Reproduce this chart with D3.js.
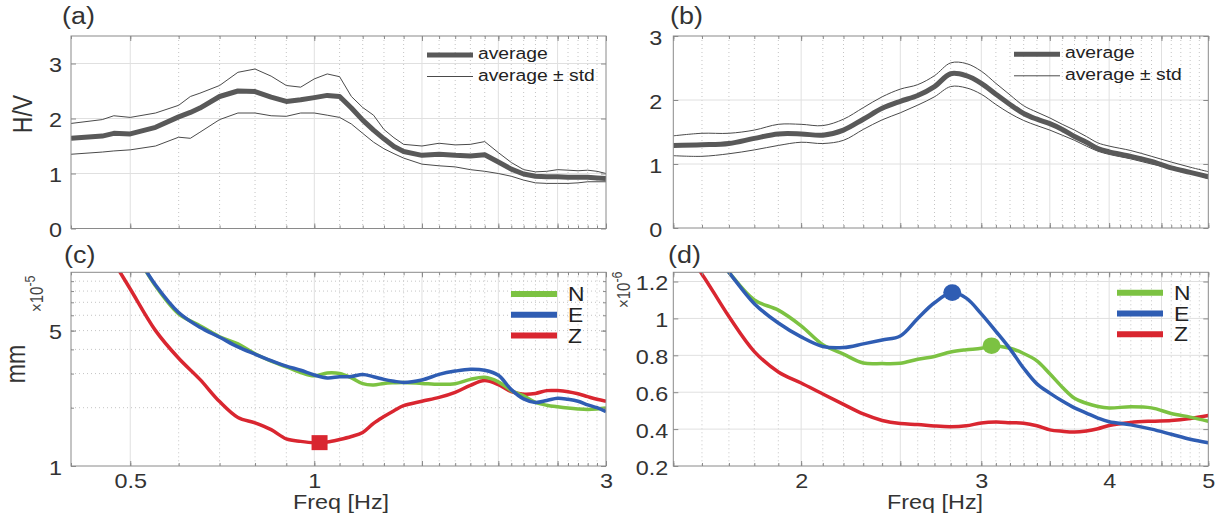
<!DOCTYPE html>
<html>
<head>
<meta charset="utf-8">
<script src="https://cdn.jsdelivr.net/npm/d3@7"></script>
<style>
  html, body { margin: 0; padding: 0; background: #fff; }
  svg { display: block; }
  text { font-family: "Liberation Sans", Arial, Helvetica, sans-serif; }
</style>
</head>
<body>
<svg id="fig" width="1219" height="521"></svg>
<script>
// ---------------- H/V ratio, site 1 (panel a) ----------------
const hvFreqA = [0.40,0.45,0.47,0.50,0.55,0.60,0.627,0.65,0.70,0.75,0.80,0.85,0.90,0.95,
                 1.00,1.05,1.10,1.15,1.20,1.25,1.30,1.35,1.40,1.50,1.60,1.70,1.80,1.90,2.00,
                 2.10,2.20,2.30,2.40,2.50,2.60,2.70,2.80,2.90,3.00];
const hvAvgA = [1.64,1.68,1.73,1.72,1.84,2.03,2.11,2.19,2.40,2.50,2.49,2.39,2.31,2.34,
                2.38,2.42,2.40,2.19,1.97,1.79,1.63,1.49,1.40,1.33,1.35,1.33,1.32,1.34,1.21,
                1.08,0.99,0.95,0.94,0.94,0.93,0.93,0.93,0.92,0.91];
const hvUpA  = [1.91,1.98,2.05,2.02,2.10,2.24,2.40,2.46,2.60,2.84,2.90,2.77,2.60,2.57,
                2.72,2.81,2.76,2.40,2.20,2.06,1.80,1.65,1.53,1.50,1.55,1.52,1.53,1.58,1.38,
                1.20,1.07,1.03,1.04,1.07,1.06,1.05,1.06,1.04,1.00];
const hvLoA  = [1.35,1.39,1.41,1.43,1.50,1.66,1.64,1.75,1.98,2.10,2.10,2.05,2.04,2.10,
                2.10,2.06,2.02,1.90,1.73,1.57,1.45,1.36,1.28,1.17,1.14,1.12,1.07,1.04,1.00,
                0.95,0.88,0.83,0.82,0.82,0.82,0.83,0.85,0.85,0.85];

// ---------------- H/V ratio, site 2 (panel b) ----------------
const hvFreqB = [1.5,1.6,1.7,1.8,1.9,2.0,2.1,2.2,2.3,2.4,2.5,2.6,2.7,2.8,2.9,3.0,
                 3.1,3.2,3.3,3.4,3.5,3.6,3.7,3.8,3.9,4.0,4.2,4.4,4.6,4.8,5.0];
const hvAvgB = [1.29,1.30,1.32,1.40,1.47,1.47,1.45,1.53,1.70,1.87,1.98,2.07,2.21,2.41,2.38,2.26,
                2.09,1.93,1.79,1.70,1.63,1.54,1.43,1.34,1.24,1.19,1.12,1.04,0.94,0.87,0.80];
const hvUpB  = [1.44,1.48,1.48,1.53,1.62,1.62,1.60,1.70,1.88,2.05,2.17,2.24,2.38,2.58,2.57,2.45,
                2.26,2.08,1.91,1.81,1.72,1.62,1.53,1.43,1.33,1.28,1.21,1.12,1.03,0.95,0.88];
const hvLoB  = [1.13,1.12,1.16,1.22,1.29,1.34,1.32,1.37,1.54,1.69,1.80,1.92,2.05,2.21,2.19,2.09,
                1.93,1.79,1.68,1.60,1.53,1.45,1.37,1.28,1.20,1.15,1.08,1.00,0.93,0.86,0.77];

// ---------------- spectra, site 1 (panel c), units of 1e-5 mm ----------------
const specFreqNC = [0.52,0.55,0.60,0.65,0.70,0.75,0.80,0.85,0.90,0.95,1.00,1.05,1.10,1.15,1.20,
                    1.25,1.30,1.35,1.40,1.50,1.60,1.70,1.80,1.90,2.00,2.10,2.20,2.30,2.40,2.50,
                    2.60,2.70,2.80,2.90,3.00];
const specNC = [11.3,8.5,6.1,5.3,4.65,4.27,3.8,3.48,3.25,3.04,2.92,3.02,3.00,2.85,2.66,
                2.62,2.67,2.69,2.70,2.67,2.64,2.66,2.80,2.87,2.72,2.45,2.30,2.13,2.06,2.02,
                1.99,1.97,1.96,1.97,1.99];
const specEC = [11.3,8.6,6.2,5.2,4.62,4.12,3.78,3.50,3.28,3.12,2.95,2.85,2.89,2.90,2.97,
                2.89,2.80,2.74,2.70,2.78,2.97,3.09,3.16,3.12,2.94,2.48,2.22,2.13,2.18,2.24,
                2.21,2.16,2.07,2.00,1.91];
const specFreqZC = [0.47,0.50,0.55,0.60,0.65,0.70,0.75,0.80,0.85,0.90,0.95,1.00,1.05,1.10,1.15,
                    1.20,1.25,1.30,1.35,1.40,1.50,1.60,1.70,1.80,1.90,2.00,2.10,2.20,2.30,2.40,
                    2.50,2.60,2.70,2.80,2.90,3.00];
const specZC = [11.3,8.2,5.0,3.6,2.8,2.15,1.78,1.67,1.54,1.38,1.34,1.32,1.33,1.37,1.42,
                1.49,1.66,1.80,1.93,2.05,2.16,2.26,2.40,2.61,2.76,2.63,2.42,2.35,2.37,2.45,
                2.45,2.42,2.36,2.28,2.21,2.16];
const minZC = { freq: 1.02, value: 1.32 };

// ---------------- spectra, site 2 (panel d), units of 1e-6 mm ----------------
const specFreqND = [1.65,1.7,1.8,1.9,2.0,2.1,2.2,2.3,2.4,2.5,2.6,2.7,2.8,2.9,3.0,3.07,
                    3.2,3.3,3.4,3.5,3.6,3.7,3.8,3.9,4.0,4.2,4.4,4.6,4.8,5.0];
const specND = [1.34,1.25,1.10,1.045,0.960,0.858,0.806,0.758,0.755,0.757,0.779,0.794,0.818,0.830,0.838,0.852,
                0.838,0.810,0.770,0.700,0.627,0.567,0.540,0.523,0.515,0.521,0.515,0.485,0.465,0.443];
const specFreqED = [1.65,1.7,1.8,1.9,2.0,2.1,2.2,2.3,2.4,2.5,2.6,2.7,2.81,2.9,3.0,3.1,
                    3.2,3.3,3.4,3.5,3.6,3.7,3.8,3.9,4.0,4.2,4.4,4.6,4.8,5.0];
const specED = [1.34,1.25,1.08,0.975,0.90,0.848,0.842,0.862,0.883,0.905,1.00,1.085,1.14,1.11,1.025,0.93,
                0.835,0.73,0.645,0.595,0.552,0.515,0.487,0.460,0.440,0.423,0.400,0.372,0.345,0.326];
const specFreqZD = [1.55,1.6,1.7,1.8,1.9,2.0,2.1,2.2,2.3,2.4,2.5,2.6,2.7,2.8,2.9,3.0,
                    3.1,3.2,3.3,3.4,3.5,3.6,3.7,3.8,3.9,4.0,4.2,4.4,4.6,4.8,5.0];
const specZD = [1.34,1.24,1.01,0.82,0.71,0.65,0.59,0.534,0.482,0.447,0.430,0.425,0.417,0.413,0.418,0.433,
                0.438,0.435,0.432,0.418,0.396,0.388,0.384,0.390,0.402,0.420,0.436,0.443,0.447,0.458,0.474];
const peakED = { freq: 2.81, value: 1.14 };
const peakND = { freq: 3.07, value: 0.852 };

// ---------------- ticks and labels ----------------
const xMajorAC = [0.5, 1, 1.5, 2, 2.5, 3];
const xMinorAC = d3.range(4, 31).map(v => v / 10);
const xLabelsAC = [0.5, 1, 3];
const xMajorBD = [1.5, 2, 2.5, 3, 3.5, 4, 4.5, 5];
const xMinorBD = d3.range(15, 51).map(v => v / 10);
const xLabelsBD = [2, 3, 4, 5];
const yTicksA = [0, 1, 2, 3];
const yTicksB = [0, 1, 2, 3];
const yTicksC = [1, 5];
const yMinorC = [2, 3, 4, 5, 6, 7, 8, 9];
const yTicksD = [0.2, 0.4, 0.6, 0.8, 1, 1.2];
const compNames = ["N", "E", "Z"];
const compColors = ["#7cc242", "#2f5db3", "#d92630"];
const hvLegend = ["average", "average \u00b1 std"];

// ---------------- drawing ----------------
const SX = 1.17;            // horizontal glyph stretch of the figure's lettering
const TXT = "#333";
const TICK_FONT = 20;
const svg = d3.select("#fig");
svg.append("rect").attr("width", 1219).attr("height", 521).attr("fill", "#fff");
const defs = svg.append("defs");

function label(x, y, s, o = {}) {
  const t = svg.append("text")
    .attr("transform", `translate(${x},${y}) scale(${SX},1) rotate(${o.rot || 0})`)
    .attr("font-size", o.size || 18)
    .attr("fill", o.fill || TXT)
    .attr("text-anchor", o.anchor || "start")
    .text(s);
  return t;
}

function frame(id, x, y, opt) {
  const [x0, x1] = x.range();
  const [y1, y0] = y.range();
  defs.append("clipPath").attr("id", id).append("rect")
    .attr("x", x0).attr("y", y0).attr("width", x1 - x0).attr("height", y1 - y0);
  const g = svg.append("g");
  // vertical minor grid (dotted)
  g.selectAll(null).data(opt.xMinor.filter(v => !opt.xMajor.includes(v) && v > x.domain()[0] && v < x.domain()[1]))
    .join("line")
    .attr("x1", d => x(d)).attr("x2", d => x(d)).attr("y1", y0).attr("y2", y1)
    .attr("stroke", "#c4c4c4").attr("stroke-width", 1).attr("stroke-dasharray", "1,3");
  // vertical major grid
  g.selectAll(null).data(opt.xMajor.filter(v => v > x.domain()[0] && v < x.domain()[1]))
    .join("line")
    .attr("x1", d => x(d)).attr("x2", d => x(d)).attr("y1", y0).attr("y2", y1)
    .attr("stroke", "#e0e0e0").attr("stroke-width", 1);
  // horizontal grid
  if (opt.yDotted) {
    g.selectAll(null).data(opt.yDotted).join("line")
      .attr("x1", x0).attr("x2", x1).attr("y1", d => y(d)).attr("y2", d => y(d))
      .attr("stroke", "#c4c4c4").attr("stroke-width", 1).attr("stroke-dasharray", "1,3");
  }
  if (opt.yGrid) {
    g.selectAll(null).data(opt.yGrid.filter(v => v > y.domain()[0] && v < y.domain()[1])).join("line")
      .attr("x1", x0).attr("x2", x1).attr("y1", d => y(d)).attr("y2", d => y(d))
      .attr("stroke", "#e0e0e0").attr("stroke-width", 1);
  }
  return g;
}

function axes(x, y, opt) {
  const [x0, x1] = x.range();
  const [y1, y0] = y.range();
  const tickCol = "#8a8a8a";
  const fmtX = d => opt.xLabels.includes(d) ? String(d) : "";
  const mk = (axis, tx, ty, size, fmt, pad) => {
    const a = axis.tickSizeInner(-size).tickSizeOuter(0).tickPadding(pad || 3).tickFormat(fmt);
    const g = svg.append("g").attr("transform", `translate(${tx},${ty})`).call(a);
    g.select(".domain").remove();
    g.selectAll("line").attr("stroke", tickCol);
    g.selectAll("text").attr("font-size", TICK_FONT).attr("fill", TXT)
      .attr("font-family", "'Liberation Sans', Arial, Helvetica, sans-serif")
      .attr("transform", `scale(${SX},1)`);
    return g;
  };
  const none = () => "";
  // bottom / top
  mk(d3.axisBottom(x).tickValues(opt.xMinor), 0, y1, 3, none);
  mk(d3.axisTop(x).tickValues(opt.xMinor), 0, y0, 3, none);
  mk(d3.axisBottom(x).tickValues(opt.xMajor), 0, y1, 5, opt.xLabels.length ? fmtX : none, 8);
  mk(d3.axisTop(x).tickValues(opt.xMajor), 0, y0, 5, none);
  // left / right
  if (opt.yMinor) {
    mk(d3.axisLeft(y).tickValues(opt.yMinor), x0, 0, 3, none);
    mk(d3.axisRight(y).tickValues(opt.yMinor), x1, 0, 3, none);
  }
  const yl = mk(d3.axisLeft(y).tickValues(opt.yTicks), x0, 0, 5, d => String(d), opt.yPad / SX);
  yl.selectAll("text").attr("dy", "0.4em");
  mk(d3.axisRight(y).tickValues(opt.yTicks), x1, 0, 5, none);
  // box
  svg.append("rect").attr("x", x0).attr("y", y0).attr("width", x1 - x0).attr("height", y1 - y0)
    .attr("fill", "none").attr("stroke", tickCol).attr("stroke-width", 1);
}

// scales
const xAC = d3.scaleLog().domain([0.4, 3]).range([71, 606]);
const xBD = d3.scaleLog().domain([1.5, 5]).range([673.3, 1208.3]);
const yA = d3.scaleLinear().domain([0, 3.5]).range([228.5, 36]);
const yB = d3.scaleLinear().domain([0, 3]).range([228, 36]);
const yC = d3.scaleLog().domain([1, 10]).range([466, 272.3]);
const yD = d3.scaleLinear().domain([0.2, 1.25]).range([466, 272.3]);

// ---- panel (a) / (b): H/V curves ----
function hvPanel(id, x, y, freq, avg, up, lo, curve, yTicks, xMajor, xMinor, yPad, legX, legY) {
  frame(id, x, y, { xMajor, xMinor, yGrid: yTicks });
  const g = svg.append("g").attr("clip-path", `url(#${id})`);
  const line = d3.line().x(d => x(d[0])).y(d => y(d[1])).curve(curve);
  [up, lo].forEach(s => g.append("path").datum(d3.zip(freq, s)).attr("d", line)
    .attr("fill", "none").attr("stroke", "#4a4a4a").attr("stroke-width", 1));
  g.append("path").datum(d3.zip(freq, avg)).attr("d", line)
    .attr("fill", "none").attr("stroke", "#595959").attr("stroke-width", 5)
    .attr("stroke-linejoin", "round");
  axes(x, y, { xMajor, xMinor, xLabels: [], yTicks, yPad });
  // legend
  svg.append("line").attr("x1", legX).attr("x2", legX + 46).attr("y1", legY).attr("y2", legY)
    .attr("stroke", "#595959").attr("stroke-width", 5);
  svg.append("line").attr("x1", legX).attr("x2", legX + 46).attr("y1", legY + 21.5).attr("y2", legY + 21.5)
    .attr("stroke", "#4a4a4a").attr("stroke-width", 1);
  label(legX + 51, legY + 4, hvLegend[0], { size: 16.5, fill: "#222" });
  label(legX + 51, legY + 25.5, hvLegend[1], { size: 16.5, fill: "#222" });
}

hvPanel("clipA", xAC, yA, hvFreqA, hvAvgA, hvUpA, hvLoA, d3.curveLinear, yTicksA, xMajorAC, xMinorAC, 9, 427, 55);
hvPanel("clipB", xBD, yB, hvFreqB, hvAvgB, hvUpB, hvLoB, d3.curveCatmullRom.alpha(0.5), yTicksB, xMajorBD, xMinorBD, 11, 1014, 54.3);

// ---- panel (c) / (d): component spectra ----
function specPanel(id, x, y, series, opt, legX, legY) {
  frame(id, x, y, { xMajor: opt.xMajor, xMinor: opt.xMinor, yGrid: opt.yGrid, yDotted: opt.yDotted });
  const g = svg.append("g").attr("clip-path", `url(#${id})`);
  const line = d3.line().x(d => x(d[0])).y(d => y(d[1])).curve(d3.curveCatmullRom.alpha(0.5));
  series.forEach(s => g.append("path").datum(d3.zip(s.freq, s.vals)).attr("d", line)
    .attr("fill", "none").attr("stroke", s.color).attr("stroke-width", 3.5)
    .attr("stroke-linejoin", "round"));
  axes(x, y, opt);
  compNames.forEach((n, i) => {
    const ly = legY + i * 20.8;
    svg.append("line").attr("x1", legX).attr("x2", legX + 46).attr("y1", ly).attr("y2", ly)
      .attr("stroke", compColors[i]).attr("stroke-width", 6);
    label(legX + 57, ly + 7, n, { size: 19.5, fill: "#222" });
  });
  return g;
}

specPanel("clipC", xAC, yC, [
  { freq: specFreqZC, vals: specZC, color: compColors[2] },
  { freq: specFreqNC, vals: specNC, color: compColors[0] },
  { freq: specFreqNC, vals: specEC, color: compColors[1] }
], { xMajor: xMajorAC, xMinor: xMinorAC, xLabels: xLabelsAC, yTicks: yTicksC, yMinor: yMinorC,
     yDotted: yMinorC, yPad: 9 }, 511, 294);
svg.append("rect")
  .attr("x", xAC(minZC.freq) - 8).attr("y", yC(minZC.value) - 7.5)
  .attr("width", 16).attr("height", 15).attr("fill", compColors[2]);

specPanel("clipD", xBD, yD, [
  { freq: specFreqZD, vals: specZD, color: compColors[2] },
  { freq: specFreqND, vals: specND, color: compColors[0] },
  { freq: specFreqED, vals: specED, color: compColors[1] }
], { xMajor: xMajorBD, xMinor: xMinorBD, xLabels: xLabelsBD, yTicks: yTicksD, yGrid: yTicksD, yPad: 5 }, 1117, 292.7);
svg.append("ellipse").attr("cx", xBD(peakED.freq)).attr("cy", yD(peakED.value))
  .attr("rx", 9).attr("ry", 8.3).attr("fill", compColors[1]);
svg.append("ellipse").attr("cx", xBD(peakND.freq)).attr("cy", yD(peakND.value))
  .attr("rx", 9).attr("ry", 8.3).attr("fill", compColors[0]);

// ---- panel letters, axis titles, exponents ----
label(62, 24, "(a)", { size: 23 });
label(670, 24, "(b)", { size: 23 });
label(64, 263, "(c)", { size: 23 });
label(668, 263, "(d)", { size: 23 });
label(32, 114, "H/V", { size: 23, rot: -90, anchor: "middle" });
label(25, 364, "mm", { size: 23, rot: -90, anchor: "middle" });
label(341, 509, "Freq [Hz]", { size: 20, anchor: "middle" });
label(935, 509, "Freq [Hz]", { size: 20, anchor: "middle" });

function exponent(x, y, p) {
  const t = label(x, y, "", { size: 15, rot: -90, fill: "#444" });
  t.append("tspan").text("\u00d710");
  t.append("tspan").attr("font-size", 12.5).attr("dy", -7).text(p);
}
exponent(43, 312, "-5");
exponent(630, 308, "-6");
</script>
</body>
</html>
